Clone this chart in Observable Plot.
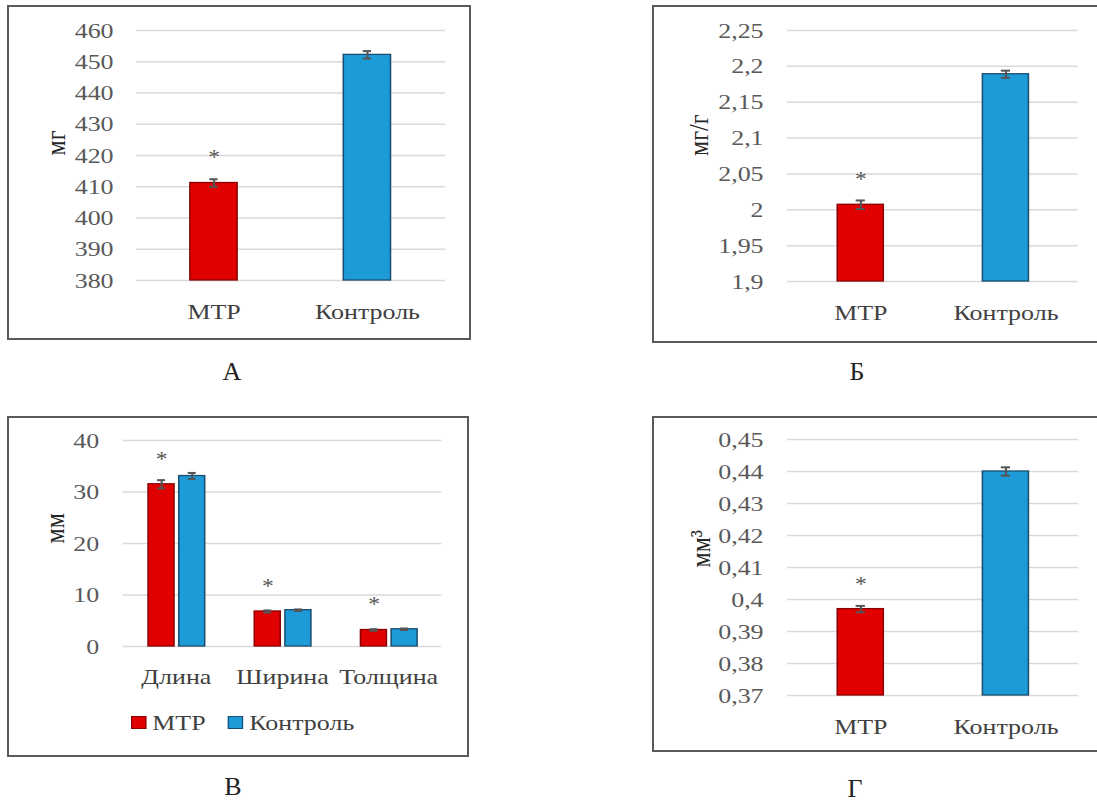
<!DOCTYPE html>
<html><head><meta charset="utf-8">
<script src="https://cdn.jsdelivr.net/npm/d3@7"></script>
<script src="https://cdn.jsdelivr.net/npm/@observablehq/plot@0.6"></script>
<style>
body{margin:0;width:1097px;height:801px;overflow:hidden;background:#fff;position:relative;font-family:'Liberation Serif',serif;}
.box{position:absolute;border:2px solid #5a5a5a;box-sizing:border-box;}
.wrap{position:absolute;}
.lbl{position:absolute;font-size:26px;color:#222;transform:translate(-50%,-50%);line-height:1;}
.legend{position:absolute;font-size:22px;color:#404040;transform:scaleX(1.18);transform-origin:left center;white-space:nowrap;line-height:1;}
.sw{display:inline-block;width:11px;height:11px;vertical-align:middle;margin-right:5px;position:relative;top:-2px;}
</style></head><body>
<script>
// ---------- data ----------
const cats = ["МТР", "Контроль"];
const sig = [true, false];
const fillColors = ["#e00000", "#1d9bd8"];
const strokeColors = ["#8a0000", "#1a4e70"];

const massVals = [411.2, 452.2];
const massErr = [1.2, 1.2];
const massTicks = [380, 390, 400, 410, 420, 430, 440, 450, 460];

const concVals = [2.007, 2.189];
const concErr = [0.006, 0.005];
const concTicks = [1.9, 1.95, 2, 2.05, 2.1, 2.15, 2.2, 2.25];

const dimCats = ["Длина", "Ширина", "Толщина"];
const dimMTP = [31.5, 6.8, 3.2];
const dimMTPErr = [0.8, 0.2, 0.15];
const dimCtrl = [33.1, 7.05, 3.35];
const dimCtrlErr = [0.6, 0.15, 0.15];
const dimSig = [true, true, true];
const dimTicks = [0, 10, 20, 30, 40];

const volVals = [0.397, 0.440];
const volErr = [0.001, 0.0013];
const volTicks = [0.37, 0.38, 0.39, 0.4, 0.41, 0.42, 0.43, 0.44, 0.45];

const panelLabels = ["А", "Б", "В", "Г"];
// ---------------------------

const S = 1.18; // horizontal stretch of the reference
const fmt = d => String(d).replace(".", ",");
const body = document.body;
const YLAB = 24;

function addBox(l, t, w, h) {
  const b = document.createElement("div");
  b.className = "box";
  Object.assign(b.style, {left: l + "px", top: t + "px", width: w + "px", height: h + "px"});
  body.appendChild(b);
}
function place(svg, l, t, W, H) {
  svg.setAttribute("preserveAspectRatio", "none");
  svg.setAttribute("width", W);
  svg.setAttribute("height", H);
  Object.assign(svg.style, {width: W + "px", height: H + "px", maxWidth: "none", background: "transparent", overflow: "visible"});
  const w = document.createElement("div");
  w.className = "wrap";
  Object.assign(w.style, {left: l + "px", top: t + "px", width: W + "px", height: H + "px"});
  w.appendChild(svg);
  body.appendChild(w);
}
function addLabel(txt, x, y) {
  const d = document.createElement("div");
  d.className = "lbl";
  d.textContent = txt;
  Object.assign(d.style, {left: x + "px", top: y + "px"});
  body.appendChild(d);
}

function simpleChart(o) {
  const data = cats.map((c, i) => ({cat: c, v: o.vals[i], e: o.errs[i], sig: sig[i], fill: fillColors[i], stroke: strokeColors[i]}));
  const yMin = o.ticks[0], yMax = o.ticks[o.ticks.length - 1];
  const p = o.pad;
  const bwUnits = (o.W - o.mL - o.mR) / S / cats.length * (1 - p);
  const capInset = (bwUnits - 9 / S) / 2;
  const marks = [
    Plot.ruleY(o.ticks, {stroke: "#dadada", strokeWidth: 1.5}),
    ...data.map(d => Plot.barY([d], {x: "cat", y1: () => yMin, y2: "v", fill: d.fill, stroke: d.stroke, strokeWidth: 1.3})),
    Plot.ruleX(data, {x: "cat", y1: d => d.v - d.e, y2: d => d.v + d.e, stroke: "#555", strokeWidth: 1.8}),
    Plot.tickY(data, {x: "cat", y: d => d.v + d.e, insetLeft: capInset, insetRight: capInset, stroke: "#555", strokeWidth: 2}),
    Plot.tickY(data, {x: "cat", y: d => d.v - d.e, insetLeft: capInset, insetRight: capInset, stroke: "#555", strokeWidth: 2}),
    Plot.text(data.filter(d => d.sig), {x: "cat", y: "v", text: () => "*", dy: -25, fontSize: 20, fill: "#555"}),
    Plot.axisY(o.ticks, {tickSize: 0, tickPadding: o.tickPad / S, tickFormat: fmt, fill: "#595959", fontSize: 22}),
    Plot.axisX({tickSize: 0, tickPadding: 31, lineAnchor: "middle", fill: "#404040", fontSize: 22}),
    Plot.text([o.label], {frameAnchor: "left", dx: -(o.mL - o.labelX) / S, rotate: -90, fontSize: YLAB, fill: "#262626"})
  ];
  const svg = Plot.plot({
    width: o.W / S, height: o.H,
    marginLeft: o.mL / S, marginRight: o.mR / S, marginTop: o.mT, marginBottom: o.mB,
    style: {fontFamily: "'Liberation Serif', serif", fontSize: "22px", background: "transparent", color: "#404040"},
    x: {domain: cats, paddingInner: p, paddingOuter: p / 2, label: null},
    y: {domain: [yMin, yMax], label: null},
    marks
  });
  place(svg, o.left, o.top, o.W, o.H);
}

// Panel А
addBox(7, 5, 464, 335);
simpleChart({vals: massVals, errs: massErr, ticks: massTicks, label: "мг", pad: 0.69,
  left: 7, top: 5, W: 464, H: 335, mL: 129, mR: 26, mT: 25, mB: 60, labelX: 48, tickPad: 23});
addLabel(panelLabels[0], 232, 372);

// Panel Б
addBox(652, 5, 460, 338);
simpleChart({vals: concVals, errs: concErr, ticks: concTicks, label: "мг/г", pad: 0.685,
  left: 652, top: 5, W: 445, H: 338, mL: 135, mR: 19, mT: 25, mB: 62, labelX: 46, tickPad: 24});
addLabel(panelLabels[1], 857, 372);

// Panel Г
addBox(652, 416, 460, 336);
simpleChart({vals: volVals, errs: volErr, ticks: volTicks, label: "мм³", pad: 0.685,
  left: 652, top: 416, W: 445, H: 336, mL: 135, mR: 19, mT: 23, mB: 57, labelX: 48, tickPad: 24});
addLabel(panelLabels[3], 855, 789);

// Panel В (grouped)
(function () {
  const o = {left: 7, top: 416, W: 462, H: 341, mL: 115, mR: 26, mT: 24, mB: 111, labelX: 47, tickPad: 24};
  addBox(7, 416, 462, 341);
  const rows = [];
  dimCats.forEach((g, i) => {
    rows.push({g, s: cats[0], v: dimMTP[i], e: dimMTPErr[i], sig: dimSig[i], fill: fillColors[0], stroke: strokeColors[0]});
    rows.push({g, s: cats[1], v: dimCtrl[i], e: dimCtrlErr[i], sig: false, fill: fillColors[1], stroke: strokeColors[1]});
  });
  const pi = 0.16, po = 0.81;
  const facetW = (o.W - o.mL - o.mR) / S / dimCats.length;
  const step = facetW / (cats.length - pi + 2 * po);
  const bw = step * (1 - pi);
  const capInset = (bw - 8 / S) / 2;
  const yMin = dimTicks[0], yMax = dimTicks[dimTicks.length - 1];
  const marks = [
    Plot.ruleY(dimTicks, {stroke: "#dadada", strokeWidth: 1.5}),
    ...cats.map((c, i) => Plot.barY(rows.filter(r => r.s === c), {fx: "g", x: "s", y1: () => yMin, y2: "v", fill: fillColors[i], stroke: strokeColors[i], strokeWidth: 1.3})),
    Plot.ruleX(rows, {fx: "g", x: "s", y1: d => d.v - d.e, y2: d => d.v + d.e, stroke: "#555", strokeWidth: 1.8}),
    Plot.tickY(rows, {fx: "g", x: "s", y: d => d.v + d.e, insetLeft: capInset, insetRight: capInset, stroke: "#555", strokeWidth: 2}),
    Plot.tickY(rows, {fx: "g", x: "s", y: d => d.v - d.e, insetLeft: capInset, insetRight: capInset, stroke: "#555", strokeWidth: 2}),
    Plot.text(rows.filter(d => d.sig), {fx: "g", x: "s", y: "v", text: () => "*", dy: -25, fontSize: 20, fill: "#555"}),
    Plot.axisY(dimTicks, {tickSize: 0, tickPadding: o.tickPad / S, tickFormat: fmt, fill: "#595959", fontSize: 22}),
    Plot.axisFx({anchor: "bottom", tickSize: 0, tickPadding: 30, lineAnchor: "middle", fill: "#404040", fontSize: 22, label: null}),
    Plot.text(["мм"], {fx: () => dimCats[0], frameAnchor: "left", dx: -(o.mL - o.labelX) / S, rotate: -90, fontSize: YLAB, fill: "#262626"})
  ];
  const svg = Plot.plot({
    width: o.W / S, height: o.H,
    marginLeft: o.mL / S, marginRight: o.mR / S, marginTop: o.mT, marginBottom: o.mB,
    style: {fontFamily: "'Liberation Serif', serif", fontSize: "22px", background: "transparent", color: "#404040"},
    fx: {domain: dimCats, paddingInner: 0, paddingOuter: 0, label: null},
    x: {domain: cats, paddingInner: pi, paddingOuter: po, axis: null, label: null},
    y: {domain: [yMin, yMax], label: null},
    marks
  });
  place(svg, o.left, o.top, o.W, o.H);

  const lg = document.createElement("div");
  lg.className = "legend";
  Object.assign(lg.style, {left: "131px", top: "712px"});
  lg.innerHTML = cats.map((c, i) =>
    `<span style="margin-right:${i === 0 ? 19 : 0}px"><span class="sw" style="background:${fillColors[i]};border:1px solid ${strokeColors[i]}"></span>${c}</span>`
  ).join("");
  body.appendChild(lg);
  addLabel(panelLabels[2], 233, 787);
})();
</script>
</body></html>
